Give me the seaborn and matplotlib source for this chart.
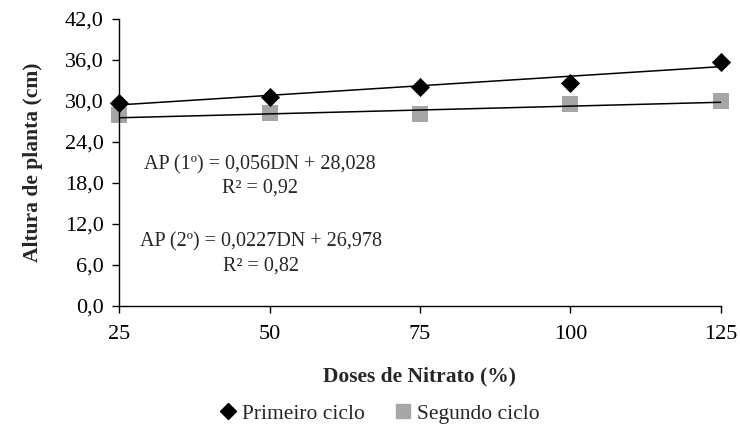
import numpy as np
import pandas as pd
import matplotlib
matplotlib.use("Agg")
import matplotlib.pyplot as plt
from matplotlib.lines import Line2D
import seaborn as sns

# Nitrate doses (%) and plant height (cm) for each growing cycle
doses = [25, 50, 75, 100, 125]
primeiro = [29.7, 30.6, 32.1, 32.6, 35.7]
segundo = [28.0, 28.2, 28.1, 29.6, 30.0]

# Linear trend coefficients (slope, intercept) and R²
coef_1 = (0.056, 28.028)
coef_2 = (0.0227, 26.978)
r2_1 = "0,92"
r2_2 = "0,82"

y_ticks = [0, 6, 12, 18, 24, 30, 36, 42]

sns.set_theme(style="white")
serif = ["Liberation Serif", "DejaVu Serif"]
plt.rcParams["font.family"] = serif

df = pd.DataFrame({
    "Dose": doses * 2,
    "Altura": primeiro + segundo,
    "Ciclo": ["Primeiro ciclo"] * len(doses) + ["Segundo ciclo"] * len(doses),
})

colors = {"Primeiro ciclo": "#000000", "Segundo ciclo": "#A6A6A6"}
markers = {"Primeiro ciclo": "D", "Segundo ciclo": "s"}
sizes = {"Primeiro ciclo": 95, "Segundo ciclo": 125}

fig = plt.figure(figsize=(7.4, 4.32), dpi=100)
ax = fig.add_axes([0.161, 0.2917, 0.813, 0.6643])

# Trend lines from the regression equations
x_fit = np.array([doses[0], doses[-1]], dtype=float)
for (a, b) in (coef_1, coef_2):
    sns.lineplot(x=x_fit, y=a * x_fit + b, ax=ax, color="black", linewidth=1.1, zorder=3)

for ciclo in ["Primeiro ciclo", "Segundo ciclo"]:
    sub = df[df["Ciclo"] == ciclo]
    sns.scatterplot(data=sub, x="Dose", y="Altura", ax=ax, color=colors[ciclo],
                    marker=markers[ciclo], s=sizes[ciclo], linewidth=0, clip_on=False,
                    zorder=2 if ciclo == "Segundo ciclo" else 4, legend=False)

ax.set_xlim(25, 125)
ax.set_ylim(0, 42)
ax.set_xticks(doses)
ax.set_xticklabels([str(d) for d in doses])
ax.set_yticks(y_ticks)
ax.set_yticklabels([f"{v:.1f}".replace(".", ",") for v in y_ticks])
ax.tick_params(axis="both", labelsize=16, direction="out", length=5, width=1,
               colors="black", bottom=True, left=True, pad=6)
ax.tick_params(axis="x", pad=9)

for side in ("top", "right"):
    ax.spines[side].set_visible(False)
for side in ("left", "bottom"):
    ax.spines[side].set_color("black")
    ax.spines[side].set_linewidth(1.0)

ax.set_xlabel("Doses de Nitrato (%)", fontsize=15.5, fontweight="bold", labelpad=16)
ax.set_ylabel("Altura de planta (cm)", fontsize=15.5, fontweight="bold", labelpad=16)

def fmt(v, nd):
    return f"{v:.{nd}f}".replace(".", ",")

ax.text(48.4, 20.7, f"AP (1º) = {fmt(coef_1[0], 3)}DN + {fmt(coef_1[1], 3)}",
        ha="center", va="center", fontsize=14.5)
ax.text(48.4, 17.3, f"R² = {r2_1}", ha="center", va="center", fontsize=14.5)
ax.text(48.6, 9.4, f"AP (2º) = {fmt(coef_2[0], 4)}DN + {fmt(coef_2[1], 3)}",
        ha="center", va="center", fontsize=14.5)
ax.text(48.6, 5.9, f"R² = {r2_2}", ha="center", va="center", fontsize=14.5)

handles = [
    Line2D([], [], linestyle="none", marker="D", color=colors["Primeiro ciclo"], markersize=8),
    Line2D([], [], linestyle="none", marker="s", color=colors["Segundo ciclo"], markersize=10),
]
leg = fig.legend(handles, ["Primeiro ciclo", "Segundo ciclo"], loc="center",
                 bbox_to_anchor=(0.513, 0.042), ncol=2, frameon=False, fontsize=15.5,
                 handletextpad=0.25, columnspacing=1.4, handlelength=0.8)
for t in leg.get_texts():
    t.set_fontfamily("Liberation Serif")
    t.set_fontsize(15.5)

fig.savefig("out.png", dpi=100)
